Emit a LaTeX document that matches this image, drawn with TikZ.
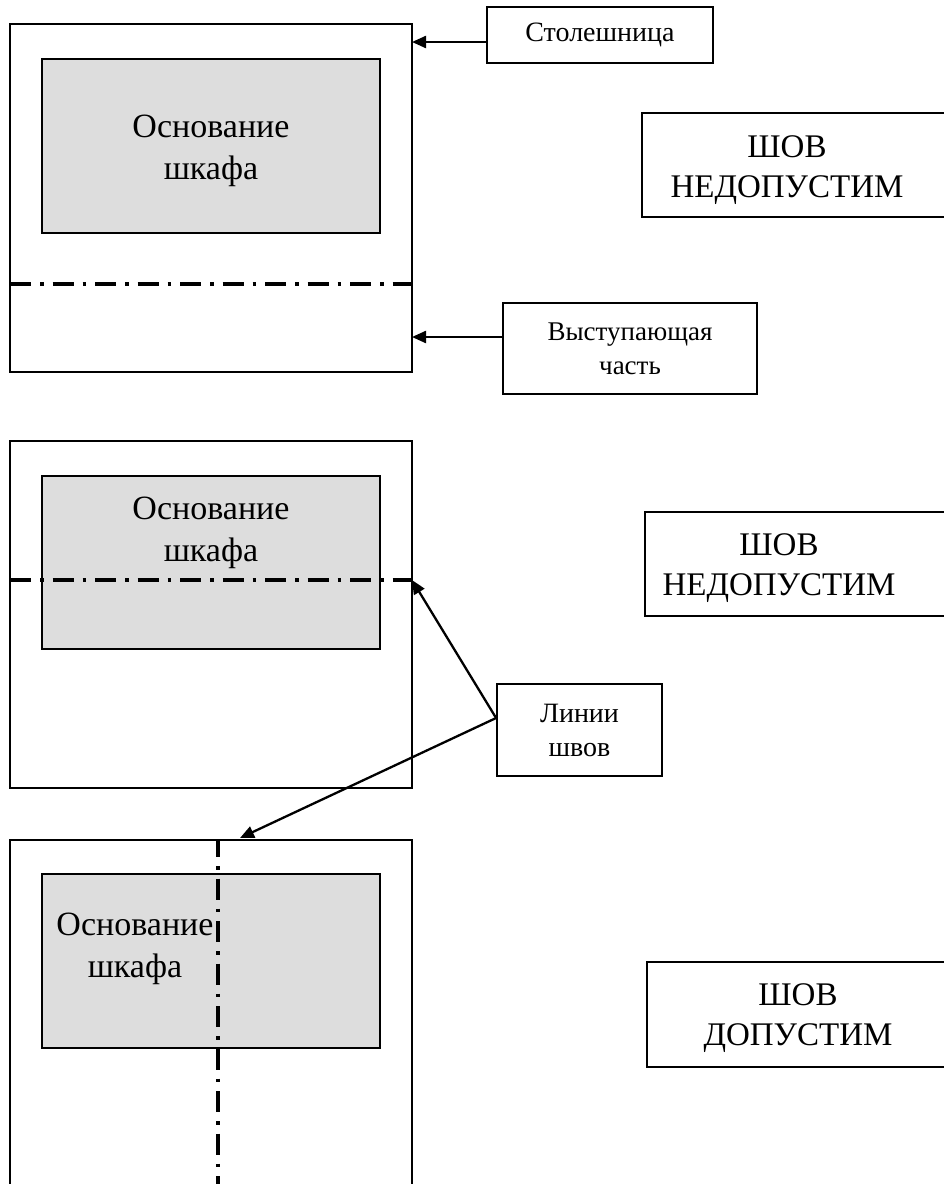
\documentclass[tikz,border=0pt]{standalone}
\usepackage{fontspec}
\setmainfont{Liberation Serif}
\usetikzlibrary{arrows.meta}
\definecolor{basegray}{HTML}{DDDDDD}
\begin{document}
\begin{tikzpicture}[x=1pt,y=-1pt,
  frame/.style={draw=black,line width=1.8pt,fill=white},
  basebox/.style={draw=black,line width=1.8pt,fill=basegray},
  seam/.style={draw=black,line width=3.5pt,dash pattern=on 21pt off 9pt on 3.5pt off 9pt},
  lblbox/.style={draw=black,line width=1.8pt,fill=white,inner sep=0pt},
  smalltext/.style={font=\fontsize{28}{34}\selectfont,align=center,inner sep=0pt},
  bigtext/.style={font=\fontsize{33}{40}\selectfont,align=center,inner sep=0pt},
  basetext/.style={font=\fontsize{34}{42}\selectfont,align=center,inner sep=0pt},
  arr/.style={draw=black,line width=2.3pt,-{Triangle[length=14pt,width=12pt]}}
]
\useasboundingbox (0,0) rectangle (944,1184);
\clip (0,0) rectangle (944,1184);
\fill[white] (0,0) rectangle (944,1184);

% ---------- panel 1 ----------
\draw[frame] (10,24) rectangle (412,372);
\draw[basebox] (42,59) rectangle (380,233);
\draw[seam] (10,284) -- (412,284);
\node[basetext] (b1) at (211,151) {Основание\\шкафа};
\coordinate (p1top) at (412,42);
\coordinate (p1bot) at (412,337);

\node[lblbox,minimum width=226pt,minimum height=56pt] (stol) at (600,35) {};
\node[smalltext] (stoltext) at (stol.center) {Столешница};
\node[lblbox,minimum width=254pt,minimum height=91pt] (vyst) at (630,348.5) {};
\node[smalltext,font=\fontsize{27}{34}\selectfont] (vysttext) at (vyst.center) {Выступающая\\часть};

\draw[arr] (stol.west |- p1top) -- (p1top);
\draw[arr] (vyst.west |- p1bot) -- (p1bot);

\node[lblbox,minimum width=330pt,minimum height=104pt,anchor=north west] (shov1) at (641,112) {};
\node[bigtext] (shov1text) at (787,170) {ШОВ\\НЕДОПУСТИМ};

% ---------- panel 2 ----------
\draw[frame] (10,441) rectangle (412,788);
\draw[basebox] (42,476) rectangle (380,649);
\draw[seam] (10,580) -- (412,580);
\node[basetext] (b2) at (211,533) {Основание\\шкафа};
\coordinate (p2seam) at (412,580);

\node[lblbox,minimum width=330pt,minimum height=104pt,anchor=north west] (shov2) at (644,511) {};
\node[bigtext] (shov2text) at (779,568) {ШОВ\\НЕДОПУСТИМ};

% ---------- seam label ----------
\node[lblbox,minimum width=165pt,minimum height=92pt] (lin) at (579.5,730) {};
\node[smalltext] (lintext) at (lin.center) {Линии\\швов};
\coordinate (linstart) at (lin.west |- 0,718);

% ---------- panel 3 ----------
\draw[frame] (10,840) rectangle (412,1200);
\draw[basebox] (42,874) rectangle (380,1048);
\draw[seam,dash phase=4pt] (218,840) -- (218,1190);
\node[basetext] (b3) at (135,949) {Основание\\шкафа};
\coordinate (p3seam) at (240,838);

\node[lblbox,minimum width=330pt,minimum height=105pt,anchor=north west] (shov3) at (646,961) {};
\node[bigtext] (shov3text) at (798,1018) {ШОВ\\ДОПУСТИМ};

\draw[arr] (linstart) -- (p2seam);
\draw[arr] (linstart) -- (p3seam);
\end{tikzpicture}
\end{document}
